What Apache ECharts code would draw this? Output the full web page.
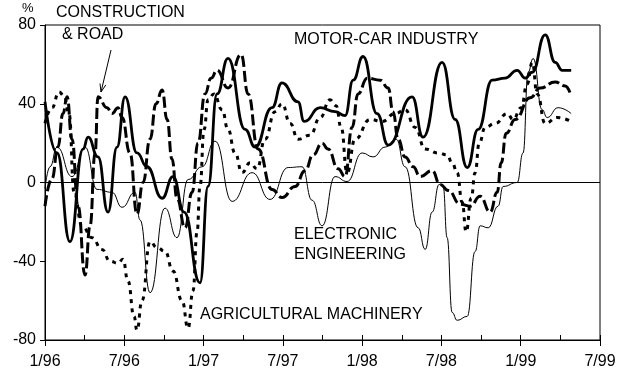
<!DOCTYPE html>
<html>
<head>
<meta charset="utf-8">
<script src="https://cdn.jsdelivr.net/npm/echarts@6/dist/echarts.min.js"></script>
<style>
html,body{margin:0;padding:0;background:#fff;}
#chart{width:622px;height:384px;}
</style>
</head>
<body>
<div id="chart"></div>
<script>
// Time is expressed in months since January 1996 (0 = 1/96)
const xTickLabels = ['1/96','7/96','1/97','7/97','1/98','7/98','1/99','7/99'];
const yTicks = [-80, -40, 0, 40, 80];

const motorMonths = [0,0.91,1.89,2.88,3.26,4.01,4.77,5.45,6.06,6.96,7.72,8.86,9.69,10.52,11.73,12.34,13.02,13.85,15.14,15.9,17.18,17.93,19.15,19.61,20.82,21.95,22.71,23.32,24.07,25.13,25.97,27.78,28.61,30.05,31.04,31.95,32.78,33.84,34.82,35.73,36.34,36.87,37.85,38.61,39.14,39.82];
const motorValues = [41,15,-30,17,23,13,-15,18,43.5,15,8,-8,3,-15,-51,-2,45,63,27,18,38,50.6,41,31,38,36,34,52,64,35,19,43.5,23,61,32,7.6,27,52,53,57,53,56,75,61,57,57];

const electronicMonths = [0,0.38,0.91,2.04,3.03,3.94,5.07,5.83,6.81,7.19,7.95,9.08,9.99,10.83,11.88,12.87,14.16,15.67,17.03,18.4,19.45,20.21,20.97,21.95,22.86,24.0,24.83,25.74,26.57,27.25,28.24,28.77,29.3,29.83,30.13,30.43,30.81,31.19,31.95,32.55,32.93,33.54,34.29,34.67,35.73,36.18,36.56,36.94,37.62,38.0,38.83,39.82];
const electronicValues = [-3,8,18,3,18,-3.5,-5,-12.6,-5,-19,-56,-13,-28,1.5,8,21,-9.6,5,-8.6,7.6,8,-9,-22,3,0.5,15,13,18,22,8,-23,-34,-15,-1,-2,-28,-66,-70,-68,-35,-22,-23,-12,-2,0,15,56,63,37,33,38,35];

const constructionMonths = [0,0.53,0.98,1.36,1.67,2.04,2.5,3.03,3.41,3.79,4.01,4.69,5.07,5.53,5.83,6.43,6.96,7.42,7.95,8.4,8.86,9.24,9.61,9.99,10.6,11.13,11.58,12.11,12.57,13.02,13.85,14.84,15.37,16.12,17.18,17.94,18.93,19.68,20.29,20.97,21.42,22.18,22.71,23.24,23.69,24.38,25.36,25.97,26.34,26.72,27.25,27.86,28.39,29.3,29.9,30.51,31.42,32.18,32.93,33.69,34.22,34.52,34.9,35.58,36.71,37.47,38.61,39.36,39.82];
const constructionValues = [-12,2,18,35,43.5,22,-12,-47,-22,15,43.5,38,35,38,33,15,-16,0,22,40,47,32,12,-8,-23,-5,20,45,53,57,48,65,45,17,-3.5,-7.6,-2,6,14,20,17,7,3,28,45,53,52,48,36,22,13,8,3,6,-1,-4,-11,-12,-7,-15,-5,10,25,32,43,48,51,49,44];

const agriMonths = [0,0.53,1.06,1.44,1.82,2.2,2.8,3.56,4.31,4.92,5.53,5.9,6.28,6.74,6.96,7.34,7.95,8.48,9.08,9.69,10.37,10.83,11.2,11.51,11.73,12.04,12.34,12.79,13.4,13.85,14.38,14.91,15.52,16.05,16.65,17.41,17.94,18.55,19.15,20.06,20.82,21.57,22.03,22.41,22.86,23.47,24.6,25.51,26.5,27.25,28.01,28.77,29.75,30.43,30.81,31.19,31.57,31.87,32.25,32.55,32.86,33.31,34.07,34.98,35.43,36.03,36.49,36.87,37.25,37.85,38.76,39.82];
const agriValues = [30,38,46,44,35,-5,-22,-28,-34,-40,-41,-39,-50,-68,-75,-60,-30,-33,-35,-45,-60,-74,-55,-25,-2,27,42,45,37,27,15,5,10,7,22,36,40,30,22,24,33,42,39,28,5,22,32,31,35,37,28,17,15,14,10,5,-10,-25,-8,5,20,28,30,35,32,38,50,61,45,30,33,31];

function zip(xs, ys){ return xs.map((x,i)=>[x, ys[i]]); }

const FONT = 'Liberation Sans';
const chart = echarts.init(document.getElementById('chart'), null, {renderer:'canvas'});

function lineSeries(name, xs, ys, width, type, extra){
  return Object.assign({
    name: name,
    type: 'line',
    data: zip(xs, ys),
    xAxisIndex: 0,
    yAxisIndex: 0,
    showSymbol: false,
    symbol: 'none',
    smooth: 0.5,
    smoothMonotone: 'x',
    animation: false,
    silent: true,
    lineStyle: {color:'#000', width: width, type: type, cap: 'butt', join: 'round'}
  }, extra || {});
}

const option = {
  backgroundColor: '#fff',
  animation: false,
  grid: {left: 45, right: 22, top: 25, bottom: 44, show: true, borderColor: '#000', borderWidth: 1, backgroundColor: 'transparent'},
  xAxis: [
    {
      type: 'value', min: 0, max: 42, interval: 6,
      axisLine: {show: true, onZero: false, lineStyle: {color:'#000', width: 1}},
      axisTick: {show: true, length: 6, lineStyle: {color:'#000'}},
      axisLabel: {
        margin: 14, color: '#000', fontFamily: FONT, fontSize: 16,
        formatter: v => xTickLabels[Math.round(v/6)] || ''
      },
      splitLine: {show: false}
    },
    {
      type: 'value', min: 0, max: 42, interval: 3, position: 'bottom',
      axisLine: {show: false, onZero: false},
      axisTick: {show: true, inside: true, length: 5, lineStyle: {color:'#000'}},
      axisLabel: {show: false},
      splitLine: {show: false}
    }
  ],
  yAxis: {
    type: 'value', min: yTicks[0], max: yTicks[yTicks.length-1], interval: 40,
    axisLine: {show: true, lineStyle: {color:'#000', width: 1}},
    axisTick: {show: true, length: 5, lineStyle: {color:'#000'}},
    axisLabel: {margin: 9, color: '#000', fontFamily: FONT, fontSize: 16},
    splitLine: {show: false}
  },
  series: [
    lineSeries('ELECTRONIC ENGINEERING', electronicMonths, electronicValues, 1, 'solid', {
      markLine: {
        silent: true, symbol: 'none', animation: false,
        label: {show: false},
        lineStyle: {color:'#000', width: 1, type: 'solid'},
        data: [{yAxis: 0}]
      }
    }),
    lineSeries('AGRICULTURAL MACHINERY', agriMonths, agriValues, 3, [4, 5]),
    lineSeries('CONSTRUCTION & ROAD', constructionMonths, constructionValues, 3, [11, 4]),
    lineSeries('MOTOR-CAR INDUSTRY', motorMonths, motorValues, 2.8, 'solid')
  ],
  graphic: [
    {type:'text', left: 22, top: 2, style:{text:'%', font: '13px ' + FONT, fill:'#000'}},
    {type:'text', left: 56, top: 5, style:{text:'CONSTRUCTION', font: '16px ' + FONT, fill:'#000'}},
    {type:'text', left: 62, top: 27, style:{text:'& ROAD', font: '16px ' + FONT, fill:'#000'}},
    {type:'line', shape:{x1:111, y1:50, x2:101, y2:92}, style:{stroke:'#000', lineWidth:1}},
    {type:'polyline', shape:{points:[[105.8,84.9],[101,92],[100,83.5]]}, style:{stroke:'#000', lineWidth:1, fill:null}},
    {type:'text', left: 294, top: 32, style:{text:'MOTOR-CAR INDUSTRY', font: '16px ' + FONT, fill:'#000'}},
    {type:'text', left: 294, top: 227, style:{text:'ELECTRONIC', font: '16px ' + FONT, fill:'#000'}},
    {type:'text', left: 294, top: 247, style:{text:'ENGINEERING', font: '16px ' + FONT, fill:'#000'}},
    {type:'text', left: 200, top: 307, style:{text:'AGRICULTURAL MACHINERY', font: '16px ' + FONT, fill:'#000'}}
  ]
};
chart.setOption(option);
</script>
</body>
</html>
